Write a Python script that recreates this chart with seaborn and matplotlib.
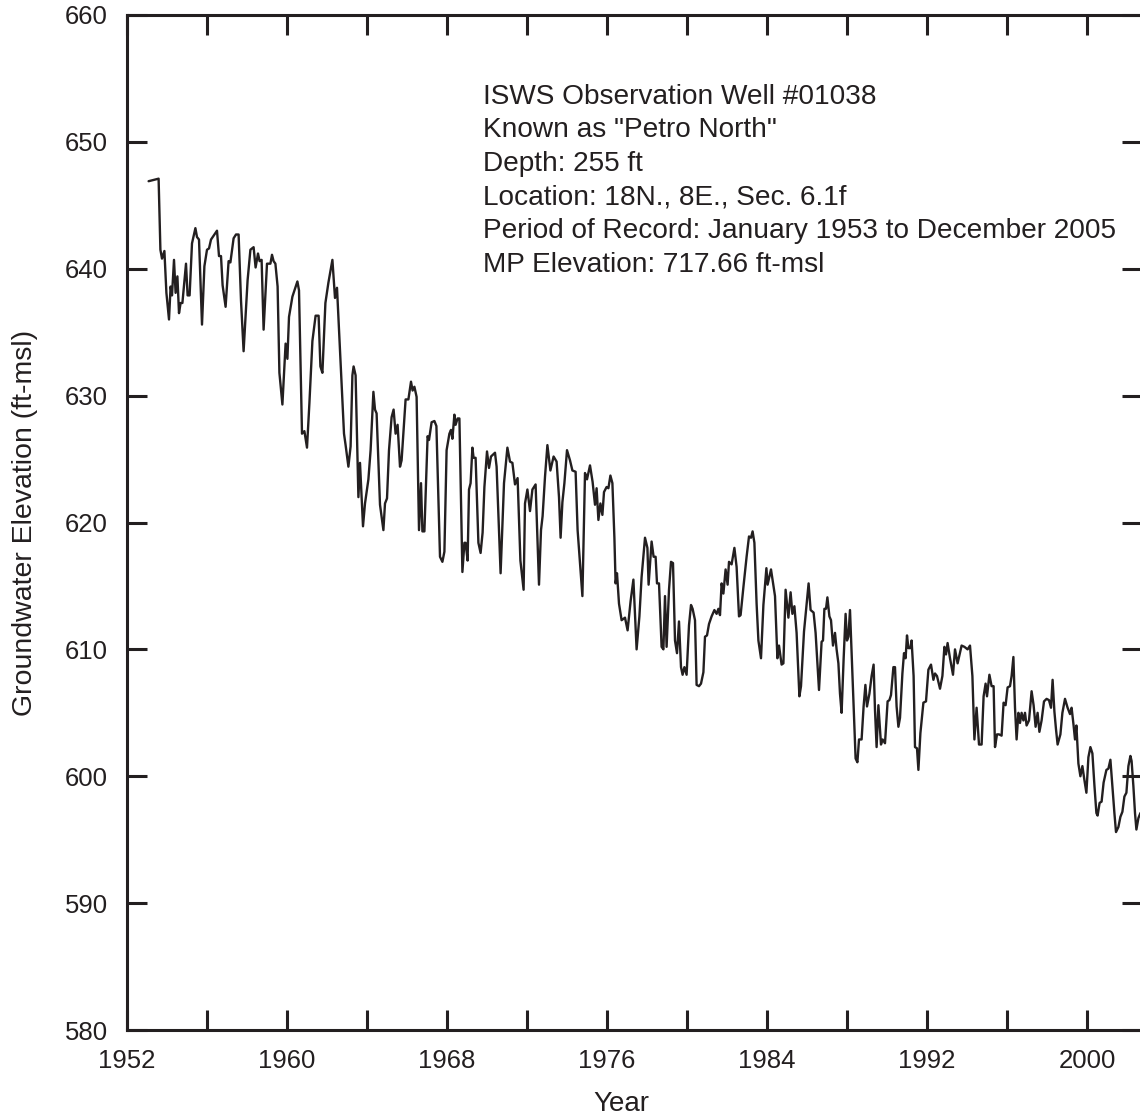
"""
Hydrograph of ISWS observation well #01038 ("Petro North"), groundwater elevation by year
"""
import pandas as pd
import seaborn as sns
import matplotlib.pyplot as plt

# (decimal year, groundwater elevation ft-msl)
well_1953_1961 = [
    (1953.08, 646.9), (1953.58, 647.1), (1953.67, 641.5), (1953.75, 640.8), (1953.87, 641.4),
    (1953.97, 638.1), (1954.10, 636.0), (1954.18, 638.6), (1954.25, 637.9), (1954.35, 640.7),
    (1954.43, 638.1), (1954.52, 639.4), (1954.60, 636.5), (1954.68, 637.3), (1954.77, 637.3),
    (1954.95, 640.4), (1955.03, 637.9), (1955.13, 637.9), (1955.25, 642.0), (1955.42, 643.2),
    (1955.50, 642.5), (1955.60, 642.3), (1955.75, 635.6), (1955.87, 640.2), (1956.00, 641.5),
    (1956.10, 641.6), (1956.20, 642.3), (1956.37, 642.7), (1956.50, 643.0), (1956.60, 641.0),
    (1956.70, 641.0), (1956.78, 638.7), (1956.93, 637.0), (1957.08, 640.6), (1957.17, 640.5),
    (1957.33, 642.4), (1957.45, 642.7), (1957.58, 642.7), (1957.70, 637.5), (1957.83, 633.5),
    (1958.03, 639.1), (1958.17, 641.5), (1958.33, 641.7), (1958.43, 640.1), (1958.55, 641.2),
    (1958.63, 640.6), (1958.73, 640.7), (1958.83, 635.2), (1959.00, 640.4), (1959.17, 640.4),
    (1959.25, 641.1), (1959.33, 640.6), (1959.42, 640.4), (1959.53, 638.6), (1959.62, 631.8),
    (1959.77, 629.3), (1959.93, 634.1), (1960.02, 632.9), (1960.10, 636.2), (1960.27, 637.8),
    (1960.52, 639.0), (1960.60, 638.3), (1960.75, 627.0), (1960.87, 627.2), (1961.00, 625.9),
    (1961.12, 629.4), (1961.27, 634.3), (1961.43, 636.3), (1961.58, 636.3), (1961.67, 632.3),
    (1961.77, 631.8), (1961.92, 637.3),
]
well_1962_1971 = [
    (1962.07, 638.9), (1962.27, 640.7), (1962.40, 637.7), (1962.50, 638.5), (1962.65, 633.6),
    (1962.85, 627.0), (1962.93, 626.1), (1963.07, 624.4), (1963.18, 626.0), (1963.27, 631.6),
    (1963.33, 632.3), (1963.43, 631.6), (1963.57, 622.0), (1963.65, 624.7), (1963.80, 619.7),
    (1963.90, 621.5), (1964.07, 623.4), (1964.18, 625.7), (1964.32, 630.3), (1964.40, 628.9),
    (1964.48, 628.6), (1964.65, 621.4), (1964.82, 619.4), (1964.90, 621.5), (1965.00, 621.9),
    (1965.10, 625.7), (1965.23, 628.3), (1965.33, 628.9), (1965.43, 627.0), (1965.53, 627.7),
    (1965.65, 624.4), (1965.73, 624.9), (1965.93, 629.7), (1966.07, 629.7), (1966.20, 631.1),
    (1966.28, 630.4), (1966.37, 630.7), (1966.48, 629.9), (1966.60, 619.4), (1966.70, 623.1),
    (1966.77, 619.3), (1966.87, 619.3), (1967.03, 626.8), (1967.10, 626.5), (1967.23, 627.9),
    (1967.37, 628.0), (1967.47, 627.6), (1967.65, 617.3), (1967.77, 616.9), (1967.87, 617.7),
    (1967.98, 625.7), (1968.12, 627.0), (1968.20, 627.3), (1968.27, 626.6), (1968.37, 628.5),
    (1968.43, 627.7), (1968.53, 628.2), (1968.62, 628.2), (1968.77, 616.1), (1968.87, 618.4),
    (1968.93, 618.4), (1969.03, 617.0), (1969.10, 622.6), (1969.18, 623.1), (1969.27, 625.9),
    (1969.33, 625.1), (1969.43, 625.1), (1969.57, 618.4), (1969.68, 617.6), (1969.78, 619.2),
    (1969.87, 622.8), (1970.00, 625.6), (1970.10, 624.3), (1970.20, 625.2), (1970.40, 625.5),
    (1970.48, 624.4), (1970.68, 616.0), (1970.85, 623.1), (1971.02, 625.9), (1971.15, 624.8),
    (1971.27, 624.7), (1971.40, 623.0), (1971.53, 623.5), (1971.67, 617.0), (1971.83, 614.7),
]
well_1972_1981 = [
    (1971.90, 621.5), (1972.02, 622.6), (1972.15, 620.9), (1972.27, 622.6), (1972.43, 623.0),
    (1972.60, 615.1), (1972.70, 619.4), (1972.78, 620.5), (1972.90, 623.6), (1973.02, 626.1),
    (1973.17, 624.1), (1973.33, 625.2), (1973.48, 624.8), (1973.60, 622.0), (1973.68, 618.8),
    (1973.77, 621.6), (1973.87, 623.1), (1974.00, 625.7), (1974.15, 624.9), (1974.27, 624.1),
    (1974.43, 624.0), (1974.53, 619.4), (1974.77, 614.2), (1974.90, 623.9), (1975.00, 623.4),
    (1975.15, 624.5), (1975.28, 623.2), (1975.40, 621.4), (1975.48, 622.7), (1975.57, 620.2),
    (1975.67, 621.5), (1975.77, 620.6), (1975.85, 622.4), (1975.98, 622.8), (1976.07, 622.7),
    (1976.17, 623.7), (1976.27, 623.1), (1976.37, 618.8), (1976.43, 615.2), (1976.50, 616.0),
    (1976.60, 613.6), (1976.73, 612.3), (1976.90, 612.5), (1977.03, 611.5), (1977.18, 613.8),
    (1977.32, 615.5), (1977.48, 610.0), (1977.62, 612.6), (1977.73, 615.7), (1977.90, 618.8),
    (1978.02, 618.0), (1978.08, 615.1), (1978.23, 618.5), (1978.33, 617.3), (1978.43, 617.3),
    (1978.50, 615.2), (1978.60, 615.2), (1978.73, 610.2), (1978.82, 610.0), (1978.90, 614.2),
    (1978.98, 610.2), (1979.10, 614.7), (1979.20, 616.9), (1979.30, 616.8), (1979.40, 610.7),
    (1979.50, 609.7), (1979.60, 612.2), (1979.70, 608.6), (1979.78, 608.0), (1979.87, 608.6),
    (1979.98, 608.0), (1980.10, 611.9), (1980.20, 613.5), (1980.28, 613.2), (1980.40, 612.3),
    (1980.48, 607.2), (1980.60, 607.1), (1980.70, 607.3), (1980.82, 608.2), (1980.90, 611.0),
    (1981.00, 611.1), (1981.10, 612.0), (1981.23, 612.6), (1981.37, 613.1), (1981.48, 612.8),
    (1981.57, 613.2), (1981.65, 612.7), (1981.73, 615.2), (1981.82, 614.4), (1981.93, 616.3),
]
well_1982_1991 = [
    (1982.03, 615.1), (1982.10, 616.9), (1982.23, 616.7), (1982.37, 618.0), (1982.48, 616.5),
    (1982.60, 612.6), (1982.68, 612.7), (1982.82, 614.9), (1982.98, 617.3), (1983.10, 618.9),
    (1983.20, 618.8), (1983.28, 619.3), (1983.37, 618.4), (1983.48, 613.6), (1983.57, 610.7),
    (1983.70, 609.3), (1983.82, 613.5), (1983.97, 616.4), (1984.03, 615.1), (1984.20, 616.3),
    (1984.40, 614.2), (1984.52, 609.3), (1984.60, 610.3), (1984.73, 608.8), (1984.82, 608.9),
    (1984.93, 614.7), (1985.07, 612.5), (1985.18, 614.5), (1985.27, 612.8), (1985.37, 613.4),
    (1985.48, 611.3), (1985.62, 606.3), (1985.70, 607.1), (1985.85, 611.4), (1985.98, 613.6),
    (1986.08, 615.2), (1986.18, 613.1), (1986.33, 612.9), (1986.43, 611.3), (1986.60, 606.8),
    (1986.73, 610.6), (1986.80, 610.7), (1986.87, 613.2), (1986.95, 613.2), (1987.02, 614.1),
    (1987.12, 612.6), (1987.20, 612.3), (1987.30, 610.3), (1987.40, 611.3), (1987.48, 610.0),
    (1987.57, 608.9), (1987.65, 606.5), (1987.73, 605.0), (1987.83, 609.2), (1987.93, 612.8),
    (1988.00, 610.7), (1988.07, 611.0), (1988.15, 613.1), (1988.23, 609.7), (1988.37, 603.9),
    (1988.43, 601.4), (1988.52, 601.1), (1988.60, 602.9), (1988.73, 602.9), (1988.83, 605.5),
    (1988.92, 607.2), (1989.00, 605.5), (1989.12, 606.5), (1989.23, 607.9), (1989.33, 608.8),
    (1989.40, 605.2), (1989.48, 602.3), (1989.57, 605.6), (1989.70, 602.5), (1989.78, 602.9),
    (1989.90, 602.6), (1990.03, 605.9), (1990.12, 606.0), (1990.20, 606.4), (1990.32, 608.6),
    (1990.40, 608.6), (1990.48, 605.5), (1990.57, 603.9), (1990.65, 604.6), (1990.77, 608.1),
    (1990.85, 609.7), (1990.93, 609.3), (1991.00, 611.1), (1991.07, 610.1), (1991.17, 610.1),
    (1991.23, 610.7), (1991.33, 607.9), (1991.40, 602.3), (1991.50, 602.2), (1991.57, 600.5),
    (1991.67, 603.4), (1991.82, 605.8), (1991.95, 605.9),
]
well_1992_2002 = [
    (1992.07, 608.4), (1992.20, 608.8), (1992.32, 607.6), (1992.40, 608.1), (1992.50, 607.9),
    (1992.65, 606.9), (1992.77, 607.9), (1992.87, 610.2), (1992.95, 609.6), (1993.03, 610.5),
    (1993.15, 609.3), (1993.30, 608.0), (1993.40, 610.0), (1993.53, 608.9), (1993.73, 610.3),
    (1993.87, 610.2), (1994.03, 610.0), (1994.15, 610.3), (1994.27, 607.9), (1994.37, 602.9),
    (1994.48, 605.4), (1994.60, 602.5), (1994.73, 602.5), (1994.83, 606.3), (1994.93, 607.3),
    (1995.00, 606.3), (1995.12, 608.0), (1995.23, 607.1), (1995.33, 607.1), (1995.40, 602.3),
    (1995.50, 603.3), (1995.60, 603.3), (1995.73, 603.2), (1995.83, 605.8), (1995.93, 605.6),
    (1996.03, 607.0), (1996.15, 607.1), (1996.23, 607.9), (1996.32, 609.4), (1996.40, 605.4),
    (1996.48, 602.9), (1996.57, 605.0), (1996.65, 604.2), (1996.73, 605.0), (1996.82, 604.4),
    (1996.90, 605.0), (1996.98, 604.0), (1997.10, 604.4), (1997.23, 606.7), (1997.33, 605.6),
    (1997.43, 603.9), (1997.53, 605.0), (1997.62, 603.5), (1997.73, 604.4), (1997.85, 605.9),
    (1997.98, 606.1), (1998.10, 606.0), (1998.20, 605.4), (1998.28, 607.6), (1998.37, 605.1),
    (1998.45, 603.7), (1998.53, 602.5), (1998.67, 603.3), (1998.77, 605.0), (1998.90, 606.1),
    (1999.03, 605.4), (1999.15, 604.9), (1999.23, 605.4), (1999.33, 604.0), (1999.40, 602.9),
    (1999.47, 604.0), (1999.57, 601.0), (1999.67, 600.0), (1999.77, 600.8), (1999.87, 599.7),
    (1999.97, 598.7), (2000.07, 601.5), (2000.17, 602.3), (2000.27, 601.8), (2000.37, 599.3),
    (2000.47, 597.1), (2000.53, 596.9), (2000.63, 597.9), (2000.73, 598.0), (2000.83, 599.5),
    (2000.97, 600.5), (2001.07, 600.6), (2001.17, 601.3), (2001.27, 599.2), (2001.37, 597.1),
    (2001.45, 595.6), (2001.57, 596.0), (2001.67, 596.8), (2001.77, 597.2), (2001.87, 598.4),
    (2001.97, 598.7), (2002.07, 600.8), (2002.17, 601.6), (2002.23, 601.2), (2002.32, 599.2),
    (2002.40, 597.1), (2002.47, 595.8), (2002.57, 596.7), (2002.67, 597.1),
]

info_lines = [
    'ISWS Observation Well #01038',
    'Known as "Petro North"',
    'Depth: 255 ft',
    'Location: 18N., 8E., Sec. 6.1f',
    'Period of Record: January 1953 to December 2005',
    'MP Elevation: 717.66 ft-msl',
]

ink = '#231f20'
sns.set_theme(style='ticks')
plt.rcParams['font.family'] = ['Liberation Sans', 'DejaVu Sans']
plt.rcParams['axes.edgecolor'] = ink
plt.rcParams['text.color'] = ink
plt.rcParams['axes.labelcolor'] = ink
plt.rcParams['xtick.color'] = ink
plt.rcParams['ytick.color'] = ink

df = pd.DataFrame(well_1953_1961 + well_1962_1971 + well_1972_1981 + well_1982_1991 + well_1992_2002,
                  columns=['year', 'elevation'])

fig = plt.figure(figsize=(11.4, 11.19), dpi=100)
ax = fig.add_axes([127 / 1140, 1 - 1030 / 1119, 1015 / 1140, 1015 / 1119])

sns.lineplot(data=df, x='year', y='elevation', estimator=None, sort=False,
             color=ink, linewidth=1.7, ax=ax)

ax.set_xlim(1952, 2002.75)
ax.set_ylim(580, 660)
ax.set_xticks(range(1952, 2003, 4))
ax.set_xticklabels([str(y) if (y - 1952) % 8 == 0 else '' for y in range(1952, 2003, 4)])
ax.set_yticks(range(580, 661, 10))

for side in ['left', 'bottom', 'top']:
    ax.spines[side].set_linewidth(2.2)
ax.spines['right'].set_visible(False)
ax.tick_params(direction='in', length=14.5, width=2.2, labelsize=18.5, pad=14,
               top=True, right=True)

ax.set_xlabel('Year', fontsize=20, labelpad=12)
ax.set_ylabel('Groundwater Elevation (ft-msl)', fontsize=20.5, labelpad=19)
ax.xaxis.set_label_coords(0.487, -0.06)

ax.text(1969.8, 654.6, '\n'.join(info_lines), fontsize=20.2, va='top', ha='left',
        linespacing=1.38)

plt.savefig('out.png', dpi=100)
